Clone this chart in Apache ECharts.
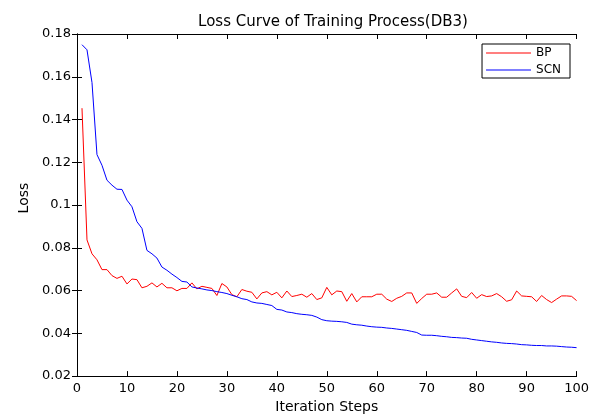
<!DOCTYPE html>
<html>
<head>
<meta charset="utf-8">
<script src="https://cdn.jsdelivr.net/npm/echarts@6/dist/echarts.min.js"></script>
<style>html,body{margin:0;padding:0;background:#fff}#c{width:592px;height:419px}</style>
</head>
<body>
<div id="c"></div>
<script>
const steps = Array.from({length: 100}, (_, i) => i + 1);
const bpLoss = [
0.1453,0.0837,0.0772,0.0744,0.0698,0.0698,0.0670,0.0657,0.0667,0.0631,
0.0654,0.0651,0.0613,0.0620,0.0636,0.0617,0.0634,0.0613,0.0613,0.0599,
0.0610,0.0610,0.0636,0.0608,0.0620,0.0615,0.0610,0.0577,0.0633,0.0617,
0.0581,0.0571,0.0605,0.0597,0.0592,0.0561,0.0589,0.0595,0.0580,0.0592,
0.0566,0.0598,0.0572,0.0577,0.0583,0.0569,0.0586,0.0558,0.0566,0.0615,
0.0580,0.0598,0.0595,0.0550,0.0586,0.0547,0.0571,0.0571,0.0571,0.0583,
0.0583,0.0560,0.0549,0.0564,0.0573,0.0589,0.0589,0.0540,0.0563,0.0583,
0.0583,0.0589,0.0569,0.0569,0.0589,0.0608,0.0573,0.0567,0.0591,0.0564,
0.0581,0.0572,0.0575,0.0586,0.0571,0.0550,0.0557,0.0598,0.0575,0.0573,
0.0571,0.0549,0.0577,0.0558,0.0544,0.0560,0.0575,0.0575,0.0573,0.0553];
const scnLoss = [
0.1750,0.1726,0.1573,0.1236,0.1186,0.1116,0.1093,0.1074,0.1073,0.1023,
0.0992,0.0922,0.0891,0.0788,0.0772,0.0752,0.0710,0.0695,0.0677,0.0661,
0.0643,0.0640,0.0617,0.0612,0.0608,0.0603,0.0600,0.0595,0.0591,0.0586,
0.0578,0.0571,0.0562,0.0558,0.0547,0.0542,0.0540,0.0535,0.0530,0.0512,
0.0509,0.0500,0.0497,0.0492,0.0489,0.0487,0.0484,0.0476,0.0464,0.0459,
0.0457,0.0456,0.0454,0.0451,0.0443,0.0440,0.0438,0.0434,0.0431,0.0429,
0.0428,0.0425,0.0423,0.0420,0.0417,0.0414,0.0409,0.0404,0.0392,0.0391,
0.0391,0.0389,0.0386,0.0384,0.0381,0.0380,0.0378,0.0377,0.0372,0.0369,
0.0366,0.0363,0.0360,0.0358,0.0355,0.0353,0.0352,0.0350,0.0347,0.0346,
0.0344,0.0343,0.0343,0.0341,0.0341,0.0340,0.0338,0.0336,0.0335,0.0333];
const seriesNames = ['BP', 'SCN'];
const titleText = 'Loss Curve of Training Process(DB3)';
const xName = 'Iteration Steps';
const yName = 'Loss';

const FONT = '"DejaVu Sans", "Liberation Sans", Arial, sans-serif';
const axisCommon = {
  axisLine: {show: true, lineStyle: {color: '#000', width: 1}},
  axisTick: {show: true, inside: true, length: 5, lineStyle: {color: '#000'}},
  splitLine: {show: false}
};
const chart = echarts.init(document.getElementById('c'), null, {renderer: 'canvas'});
chart.setOption({
  animation: false,
  backgroundColor: '#fff',
  textStyle: {fontFamily: FONT},
  title: {
    text: titleText, left: 328, top: 10, textAlign: 'center',
    textStyle: {fontFamily: FONT, fontSize: 15, fontWeight: 'normal', color: '#000'}
  },
  legend: {
    data: seriesNames, orient: 'vertical', right: 22, top: 44,
    icon: 'rect',
    borderColor: '#000', borderWidth: 1, borderRadius: 0,
    padding: [2, 9, 1, 4], itemGap: 3, itemWidth: 45, itemHeight: 1,
    textStyle: {fontFamily: FONT, fontSize: 12, color: '#000', lineHeight: 14}
  },
  grid: {left: 77, right: 13, top: 34, bottom: 41, containLabel: false},
  xAxis: [
    Object.assign({
      type: 'value', min: 0, max: 100, interval: 10, position: 'bottom',
      name: xName, nameLocation: 'middle', nameGap: 23,
      nameTextStyle: {fontFamily: FONT, fontSize: 14, color: '#000'},
      axisLabel: {fontFamily: FONT, fontSize: 13, color: '#000', margin: 6}
    }, axisCommon),
    Object.assign({
      type: 'value', min: 0, max: 100, interval: 10, position: 'top',
      axisLabel: {show: false}
    }, axisCommon)
  ],
  yAxis: [
    Object.assign({
      type: 'value', min: 0.02, max: 0.18, interval: 0.02, position: 'left',
      name: yName, nameLocation: 'middle', nameGap: 43,
      nameTextStyle: {fontFamily: FONT, fontSize: 14, color: '#000', padding: [0, 0, 0, 14]},
      axisLabel: {fontFamily: FONT, fontSize: 13, color: '#000', margin: 6,
        formatter: v => String(parseFloat(v.toFixed(3)))}
    }, axisCommon),
    Object.assign({
      type: 'value', min: 0.02, max: 0.18, interval: 0.02, position: 'right',
      axisLabel: {show: false}
    }, axisCommon)
  ],
  series: [
    {name: seriesNames[0], type: 'line', data: steps.map((s, i) => [s, bpLoss[i]]),
     showSymbol: false, symbol: 'none', lineStyle: {color: '#ff0000', width: 1}, itemStyle: {color: '#ff0000'}},
    {name: seriesNames[1], type: 'line', data: steps.map((s, i) => [s, scnLoss[i]]),
     showSymbol: false, symbol: 'none', lineStyle: {color: '#0000ff', width: 1}, itemStyle: {color: '#0000ff'}}
  ]
});
</script>
</body>
</html>
